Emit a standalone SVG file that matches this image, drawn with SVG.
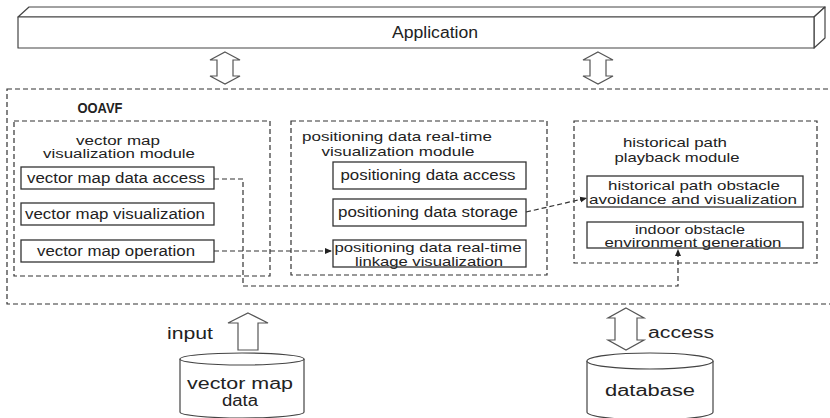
<svg xmlns="http://www.w3.org/2000/svg" width="830" height="418" viewBox="0 0 830 418">
  <style>
    text { font-family: "Liberation Sans", Arial, sans-serif; fill: #222; text-anchor: middle; }
    .t12 { font-size: 12px; }
    .t13 { font-size: 13px; }
    .t14 { font-size: 14px; }
    .t16 { font-size: 16px; }
    .bold { font-weight: bold; }
    .box { fill: #fff; stroke: #333; stroke-width: 1.3; }
    .frame { fill: none; stroke: #333; stroke-width: 1.2; stroke-dasharray: 5 3; }
    .link { fill: none; stroke: #333; stroke-width: 1.2; stroke-dasharray: 5 3; }
    .block { fill: #fff; stroke: #555; stroke-width: 1.2; stroke-linejoin: miter; }
    .face { fill: #fff; stroke: #444; stroke-width: 1.2; stroke-linejoin: round; }
  </style>
  <defs>
    <marker id="tip" markerWidth="8" markerHeight="8" refX="7" refY="4" orient="auto" markerUnits="userSpaceOnUse">
      <path d="M0,1 L7,4 L0,7 Z" fill="#222"/>
    </marker>
  </defs>

  <!-- application layer bar (3D slab) -->
  <g id="application">
    <polygon class="face" points="18,17 29,7 825,7 814,17"/>
    <polygon class="face" points="814,17 825,7 825,38 814,48"/>
    <rect class="face" x="18" y="17" width="796" height="31"/>
    <text class="t16" x="435" y="38" textLength="86" lengthAdjust="spacingAndGlyphs">Application</text>
  </g>

  <!-- two-way arrows between application and framework -->
  <g id="app-links">
    <polygon class="block" points="225,52 240,60 233,60 233,76 240,76 225,84 210,76 217,76 217,60 210,60"/>
    <polygon class="block" points="598,52 613,60 606,60 606,76 613,76 598,84 583,76 590,76 590,60 583,60"/>
  </g>

  <!-- framework container -->
  <g id="ooavf">
    <rect class="frame" x="7" y="89" width="830" height="215"/>
    <text class="t14 bold" x="100" y="113" textLength="45" lengthAdjust="spacingAndGlyphs">OOAVF</text>
  </g>

  <!-- vector map visualization module -->
  <g id="vector-module">
    <rect class="frame" x="14" y="121" width="256" height="155"/>
    <text class="t12" x="118" y="145" textLength="84" lengthAdjust="spacingAndGlyphs">vector map</text>
    <text class="t12" x="119" y="158" textLength="152" lengthAdjust="spacingAndGlyphs">visualization module</text>
  </g>
  <g id="vector-data-access">
    <rect class="box" x="21" y="167" width="193" height="22"/>
    <text class="t14" x="116" y="183" textLength="178" lengthAdjust="spacingAndGlyphs">vector map data access</text>
  </g>
  <g id="vector-visualization">
    <rect class="box" x="21" y="203" width="193" height="22"/>
    <text class="t14" x="115" y="219" textLength="180" lengthAdjust="spacingAndGlyphs">vector map visualization</text>
  </g>
  <g id="vector-operation">
    <rect class="box" x="21" y="240" width="193" height="22"/>
    <text class="t14" x="116" y="256" textLength="158" lengthAdjust="spacingAndGlyphs">vector map operation</text>
  </g>

  <!-- positioning data real-time visualization module -->
  <g id="positioning-module">
    <rect class="frame" x="291" y="121" width="256" height="154"/>
    <text class="t13" x="397" y="141" textLength="190" lengthAdjust="spacingAndGlyphs">positioning data real-time</text>
    <text class="t13" x="398" y="156" textLength="153" lengthAdjust="spacingAndGlyphs">visualization module</text>
  </g>
  <g id="positioning-access">
    <rect class="box" x="333" y="162" width="193" height="27"/>
    <text class="t14" x="428" y="180" textLength="175" lengthAdjust="spacingAndGlyphs">positioning data access</text>
  </g>
  <g id="positioning-storage">
    <rect class="box" x="333" y="199" width="193" height="27"/>
    <text class="t14" x="428" y="217" textLength="180" lengthAdjust="spacingAndGlyphs">positioning data storage</text>
  </g>
  <g id="positioning-linkage">
    <rect class="box" x="333" y="240" width="193" height="27"/>
    <text class="t13" x="428" y="252" textLength="187" lengthAdjust="spacingAndGlyphs">positioning data real-time</text>
    <text class="t13" x="429" y="266" textLength="148" lengthAdjust="spacingAndGlyphs">linkage visualization</text>
  </g>

  <!-- historical path playback module -->
  <g id="history-module">
    <rect class="frame" x="574" y="121" width="243" height="142"/>
    <text class="t13" x="675" y="147" textLength="104" lengthAdjust="spacingAndGlyphs">historical path</text>
    <text class="t13" x="677" y="162" textLength="125" lengthAdjust="spacingAndGlyphs">playback module</text>
  </g>
  <g id="history-avoidance">
    <rect class="box" x="587" y="176" width="216" height="31"/>
    <text class="t13" x="694" y="190" textLength="172" lengthAdjust="spacingAndGlyphs">historical path obstacle</text>
    <text class="t13" x="693" y="204" textLength="208" lengthAdjust="spacingAndGlyphs">avoidance and visualization</text>
  </g>
  <g id="indoor-environment">
    <rect class="box" x="587" y="222" width="216" height="26"/>
    <text class="t12" x="690" y="234" textLength="110" lengthAdjust="spacingAndGlyphs">indoor obstacle</text>
    <text class="t12" x="693" y="247" textLength="177" lengthAdjust="spacingAndGlyphs">environment generation</text>
  </g>

  <!-- internal data flows -->
  <g id="connectors">
    <path class="link" d="M214,179 H243 V286 H678 V249" marker-end="url(#tip)"/>
    <path class="link" d="M214,251 H332" marker-end="url(#tip)"/>
    <path class="link" d="M526,212 L587,198" marker-end="url(#tip)"/>
    <polygon class="block" points="248,313 268,323 258,323 258,350 238,350 238,323 228,323"/>
    <polygon class="block" points="626,308 644,318 637,318 637,340 644,340 626,350 608,340 615,340 615,318 608,318"/>
    <text class="t16" x="190" y="339" textLength="46" lengthAdjust="spacingAndGlyphs">input</text>
    <text class="t16" x="681" y="338" textLength="66" lengthAdjust="spacingAndGlyphs">access</text>
  </g>

  <!-- data stores -->
  <g id="vector-map-data">
    <path class="face" d="M180,359 V412 A62,6 0 0 0 304,412 V359"/>
    <ellipse class="face" cx="242" cy="359" rx="62" ry="6"/>
    <text class="t16" x="240" y="389" textLength="106" lengthAdjust="spacingAndGlyphs">vector map</text>
    <text class="t16" x="240" y="406" textLength="36" lengthAdjust="spacingAndGlyphs">data</text>
  </g>
  <g id="database">
    <path class="face" d="M587,361 V412 A63,8 0 0 0 713,412 V361"/>
    <ellipse class="face" cx="650" cy="361" rx="63" ry="8"/>
    <text class="t16" x="650" y="396" textLength="90" lengthAdjust="spacingAndGlyphs">database</text>
  </g>
</svg>
